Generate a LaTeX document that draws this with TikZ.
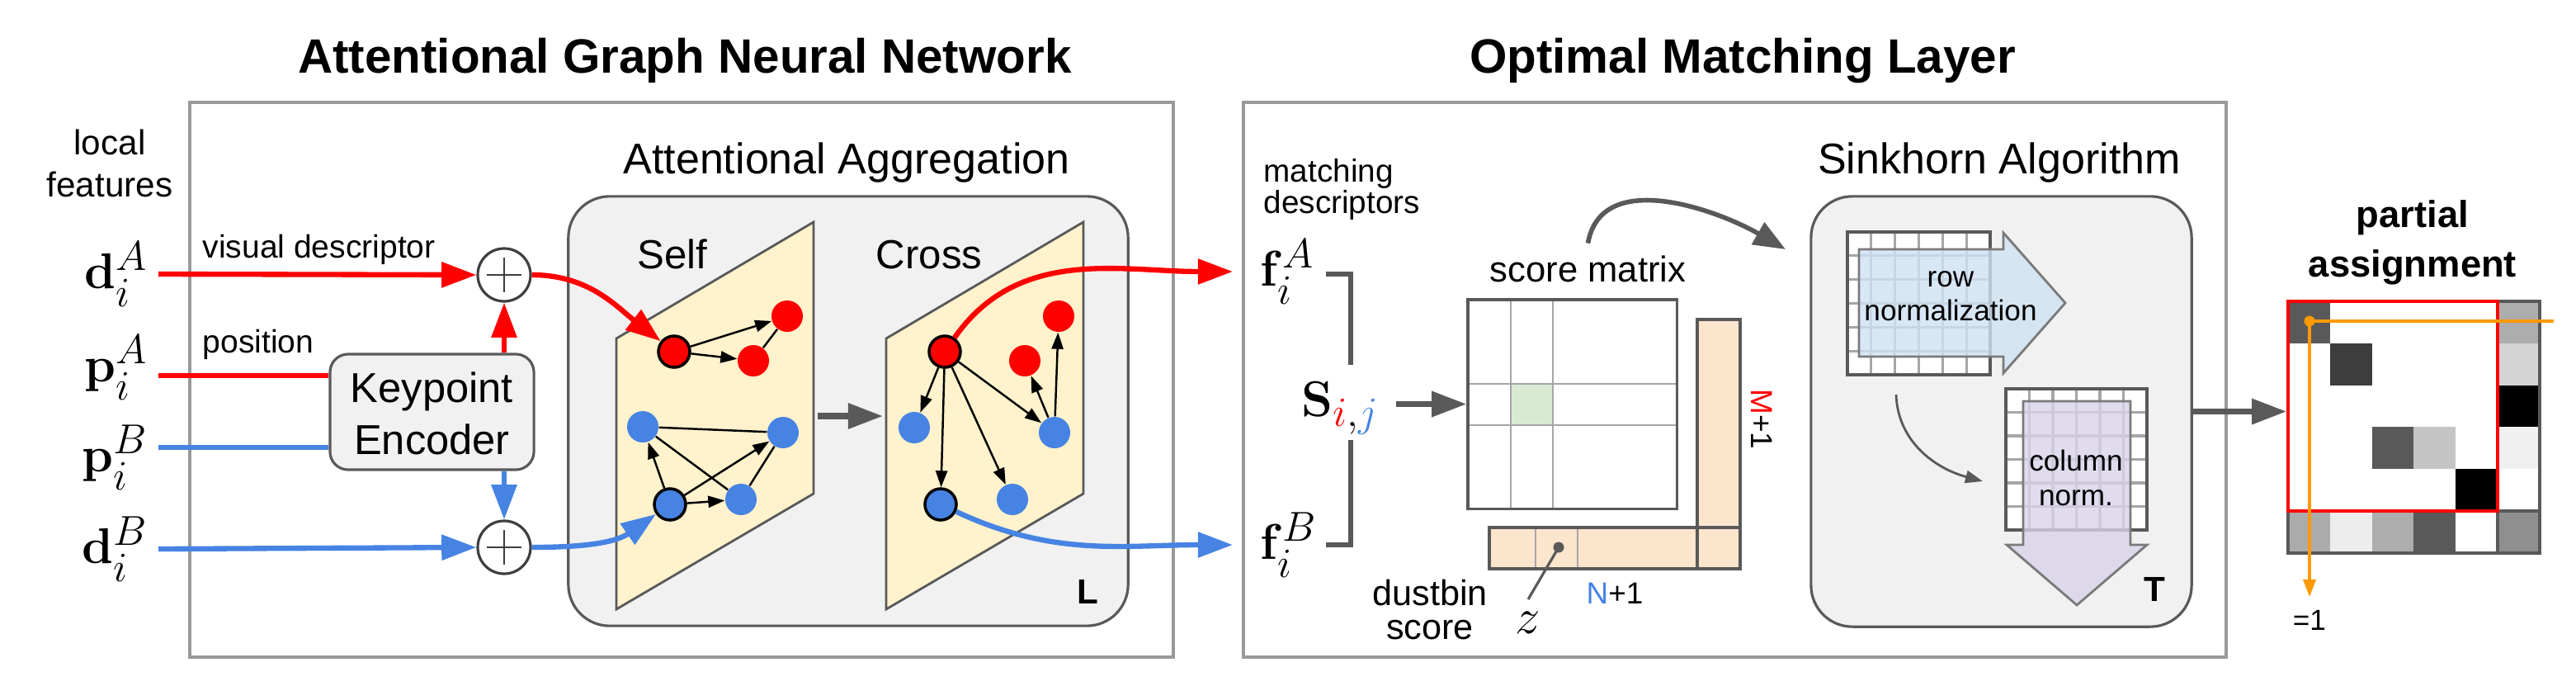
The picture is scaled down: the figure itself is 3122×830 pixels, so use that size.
\documentclass[tikz,border=0pt]{standalone}
\usepackage[no-math]{fontspec}
\setmainfont{Liberation Sans}
\usepackage{amsmath, amssymb}
\usepackage{xcolor}
\usetikzlibrary{arrows.meta}

\definecolor{myred}{HTML}{FF0000}
\definecolor{myblue}{HTML}{4683E3}
\definecolor{framegray}{HTML}{999999}
\definecolor{edgegray}{HTML}{595959}
\definecolor{gridgray}{HTML}{A6A6A6}
\definecolor{panelgray}{HTML}{F1F1F1}
\definecolor{planeyellow}{HTML}{FFF2CC}
\definecolor{peach}{HTML}{FCE5CD}
\definecolor{cellgreen}{HTML}{D9EAD3}
\definecolor{rowblue}{HTML}{CFE2F3}
\definecolor{colpurple}{HTML}{D9D2E9}
\definecolor{myorange}{HTML}{FF9900}

\newcommand{\setsz}[1]{\fontsize{#1}{#1}\selectfont}

\tikzset{
  redline/.style={draw=myred, line width=1.8pt},
  blueline/.style={draw=myblue, line width=1.8pt},
  bigtip/.style={-{Triangle[length=12pt,width=8.5pt]}},
  grayarrow/.style={draw=edgegray, line width=2pt, -{Triangle[length=12pt,width=8.5pt]}},
  gnode/.style={circle, inner sep=0pt, minimum size=0.38cm},
  rnode/.style={gnode, fill=myred},
  bnode/.style={gnode, fill=myblue},
  query/.style={draw=black, line width=1pt},
  gedge/.style={draw=black, line width=0.7pt, -{Triangle[length=5.7pt,width=4pt]}},
  glink/.style={draw=black, line width=0.7pt},
  plane/.style={fill=planeyellow, draw=edgegray, line width=0.8pt},
  panel/.style={draw=edgegray, fill=panelgray, line width=0.9pt, rounded corners=0.5cm, inner sep=0pt},
  outerframe/.style={draw=framegray, line width=1pt},
  plusnode/.style={circle, draw=edgegray!70!black, fill=white, line width=0.9pt, minimum size=0.64cm, inner sep=0pt},
  lbl/.style={inner sep=0pt, anchor=base},
  mathlbl/.style={font=\setsz{19}, inner ysep=0pt},
}

\begin{document}
\begin{tikzpicture}[x=0.01cm, y=-0.01cm]
\useasboundingbox (0,0) rectangle (3122,830);

\node[lbl, font=\bfseries\setsz{16.6}] (gnntitle) at (830,88) {Attentional Graph Neural Network};
\node[lbl, font=\bfseries\setsz{16.6}] (omltitle) at (2112,88) {Optimal Matching Layer};

\draw[outerframe] (230,124) rectangle (1422,796);
\draw[outerframe] (1507,124) rectangle (2698,796);

% inputs
\node[lbl, font=\setsz{12}] (local) at (133,187) {local};
\node[lbl, font=\setsz{12}] (feat) at (133,238) {features};
\node[mathlbl, inner xsep=0.12cm, anchor=east] (dA) at (192,332) {$\mathbf{d}_i^A$};
\node[mathlbl, inner xsep=0.12cm, anchor=east] (pA) at (192,445) {$\mathbf{p}_i^A$};
\node[mathlbl, inner xsep=0.12cm, anchor=east] (pB) at (192,554) {$\mathbf{p}_i^B$};
\node[mathlbl, inner xsep=0.12cm, anchor=east] (dB) at (192,665) {$\mathbf{d}_i^B$};
\node[lbl, anchor=base west, font=\setsz{11.1}] (vdesc) at (245,312) {visual descriptor};
\node[lbl, anchor=base west, font=\setsz{11.1}] (pos) at (245,427) {position};

\node[draw=edgegray, fill=panelgray, line width=0.9pt, rounded corners=0.22cm, minimum width=2.47cm, minimum height=1.4cm] (kenc) at (523.5,499) {};
\node[lbl, font=\setsz{14.4}] (kenc1) at (523.5,487) {Keypoint};
\node[lbl, font=\setsz{14.4}] (kenc2) at (523.5,550) {Encoder};

\node[plusnode] (plusA) at (611,333) {};
\node[plusnode] (plusB) at (611,663) {};
\foreach \p in {plusA,plusB}
  \draw[edgegray!70!black, line width=0.6pt] (\p) ++(-21,0) -- ++(42,0) (\p) ++(0,-21) -- ++(0,42);

\draw[redline, bigtip] (dA.east) -- (plusA.west);
\draw[redline] (pA.east |- 0,455) -- (kenc.west |- 0,455);
\draw[blueline] (pB.east |- 0,542) -- (kenc.west |- 0,542);
\draw[blueline, bigtip] (dB.east) -- (plusB.west);
\draw[redline, bigtip] (kenc.north -| plusA) -- (plusA.south);
\draw[blueline, bigtip] (kenc.south -| plusB) -- (plusB.north);

% attentional aggregation
\node[panel, minimum width=6.78cm, minimum height=5.2cm] (aggr) at (1028,498) {};
\node[lbl, font=\setsz{14.8}] (aggrtitle) at (1026,210) {Attentional Aggregation};
\draw[plane] (747,410) -- (986,269) -- (986,598) -- (747,738) -- cycle;
\draw[plane] (1074,410) -- (1313,269) -- (1313,598) -- (1074,738) -- cycle;
\node[lbl, anchor=base west, font=\setsz{14}] (selftxt) at (772,325) {Self};
\node[lbl, anchor=base west, font=\setsz{14}] (crosstxt) at (1061,325) {Cross};
\node[lbl, font=\bfseries\setsz{12}] (layL) at (1318,731) {L};

\coordinate (selfout) at (991,504);
\coordinate (crossin) at (1070,504);
\draw[grayarrow] (selfout) -- (crossin);

\node[rnode, query] (sr1) at (817,426) {};
\node[rnode] (sr2) at (954,383) {};
\node[rnode] (sr3) at (913,437) {};
\node[bnode, query] (sb1) at (812,611) {};
\node[bnode] (sb2) at (779,517) {};
\node[bnode] (sb3) at (949,524) {};
\node[bnode] (sb4) at (898,605) {};
\draw[gedge] (sr1) -- (sr2);
\draw[gedge] (sr1) -- (sr3);
\draw[glink] (sr3) -- (sr2);
\draw[gedge] (sb1) -- (sb2);
\draw[gedge] (sb1) -- (sb3);
\draw[gedge] (sb1) -- (sb4);
\draw[glink] (sb2) -- (sb3);
\draw[glink] (sb2) -- (sb4);
\draw[glink] (sb4) -- (sb3);

\node[rnode, query] (cr1) at (1145,426) {};
\node[rnode] (cr2) at (1283,383) {};
\node[rnode] (cr3) at (1242,437) {};
\node[bnode, query] (cb1) at (1140,611) {};
\node[bnode] (cb2) at (1108,518) {};
\node[bnode] (cb3) at (1278,524) {};
\node[bnode] (cb4) at (1227,605) {};
\draw[gedge] (cr1) -- (cb2);
\draw[gedge] (cr1) -- (cb1);
\draw[gedge] (cr1) -- (cb4);
\draw[gedge] (cr1) -- (cb3);
\draw[gedge] (cb3) -- (cr3);
\draw[gedge] (cb3) -- (cr2);

\draw[redline, bigtip] (plusA.east) to[out=0, in=142] (sr1);
\draw[blueline, bigtip] (plusB.east) to[out=0, in=-145] (sb1);

% optimal matching layer
\node[lbl, anchor=base west, font=\setsz{11}] (match1) at (1531,220) {matching};
\node[lbl, anchor=base west, font=\setsz{11}] (match2) at (1531,258) {descriptors};
\node[mathlbl, inner xsep=0.33cm, anchor=west] (fA) at (1494,329) {$\mathbf{f}_i^A$};
\node[mathlbl, inner xsep=0.33cm, anchor=west] (fB) at (1494,660) {$\mathbf{f}_i^B$};
\draw[redline, bigtip] (cr1) to[out=55, in=180] (fA.west);
\draw[blueline, bigtip] (cb1) to[out=-25, in=180] (fB.west);
\draw[edgegray, line width=1.6pt] (1607,332) -| (1637,442);
\draw[edgegray, line width=1.6pt] (1637,533) |- (1607,660);
\node[mathlbl, inner xsep=0.2cm, anchor=base west] (sij) at (1557,504) {$\mathbf{S}_{\textcolor{myred}{i},\textcolor{myblue}{j}}$};

\fill[white] (1779,363) rectangle (2032,616);
\fill[cellgreen] (1831,465) rectangle (1882,515);
\draw[gridgray, line width=0.8pt] (1831,363) -- (1831,616) (1882,363) -- (1882,616)
  (1779,465) -- (2032,465) (1779,515) -- (2032,515);
\node[draw=edgegray, line width=0.9pt, minimum width=2.53cm, minimum height=2.53cm, inner sep=0pt] (smat) at (1905.5,489.5) {};
\draw[grayarrow] (sij.east |- smat.west) -- (smat.west);
\node[inner sep=4pt, anchor=base west, font=\setsz{12.4}] (smlabel) at (1791,341) {score matrix};

\fill[peach] (2057,387) rectangle (2109,689);
\fill[peach] (1805,639) rectangle (2109,689);
\draw[gridgray, line width=0.8pt] (1861,639) -- (1861,689) (1912,639) -- (1912,689);
\draw[edgegray, line width=0.9pt] (2057,387) rectangle (2109,689);
\draw[edgegray, line width=0.9pt] (1805,639) rectangle (2109,689);
\node[circle, fill=edgegray, inner sep=0pt, minimum size=0.13cm] (zdot) at (1889,663) {};
\node[anchor=base, inner sep=4pt, font=\setsz{19}] (zlbl) at (1852,767) {$z$};
\draw[edgegray, line width=0.9pt] (zdot.center) -- (zlbl.north);
\node[lbl, font=\setsz{12.3}] (dust1) at (1733,733) {dustbin};
\node[lbl, font=\setsz{12.3}] (dust2) at (1733,774) {score};
\node[lbl, anchor=base west, font=\setsz{10.5}] (nplus) at (1922,731) {\textcolor{myblue}{N}+1};
\node[inner sep=0pt, rotate=-90, font=\setsz{10.5}] (mplus) at (2135,508) {\textcolor{myred}{M}+1};

% sinkhorn
\node[panel, minimum width=4.61cm, minimum height=5.21cm] (sink) at (2425.5,498.5) {};
\node[lbl, font=\setsz{14.8}] (sinktitle) at (2423,210) {Sinkhorn Algorithm};
\coordinate (sinkin) at (2164,302);
\draw[draw=edgegray, line width=1.6pt, -{Triangle[length=11pt,width=8.5pt]}] (smlabel.north) to[out=80, in=150] (sinkin);

\fill[white] (2239,281) rectangle ++(173,173);
\fill[white] (2431,471) rectangle ++(171,171);
\foreach \i in {0,...,6} {
  \draw[gridgray, line width=0.9pt] (2239+\i*28.83,281) -- ++(0,173);
  \draw[gridgray, line width=0.9pt] (2239,281+\i*28.83) -- ++(173,0);
  \draw[gridgray, line width=0.9pt] (2431+\i*28.5,471) -- ++(0,171);
  \draw[gridgray, line width=0.9pt] (2431,471+\i*28.5) -- ++(171,0);
}
\draw[edgegray, line width=1pt] (2239,281) rectangle ++(173,173);
\draw[edgegray, line width=1pt] (2431,471) rectangle ++(171,171);

\draw[fill=rowblue, fill opacity=0.8, draw=edgegray!80, line width=0.8pt]
  (2253,302) -- (2428,302) -- (2428,282) -- (2503,367) -- (2428,452) -- (2428,432) -- (2253,432) -- cycle;
\draw[fill=colpurple, fill opacity=0.8, draw=edgegray!80, line width=0.8pt]
  (2452,486) -- (2582,486) -- (2582,660) -- (2602,660) -- (2517,733) -- (2432,660) -- (2452,660) -- cycle;
\node[lbl, font=\setsz{10}] (row1) at (2364,347) {row};
\node[lbl, font=\setsz{10}] (row2) at (2364,388) {normalization};
\node[lbl, font=\setsz{10}] (col1) at (2516,570) {column};
\node[lbl, font=\setsz{10}] (col2) at (2516,612) {norm.};
\coordinate (thinstart) at (2298,478);
\coordinate (thinend) at (2403,583);
\draw[edgegray, line width=0.8pt, -{Triangle[length=6pt,width=4.3pt]}] (thinstart) to[out=-88, in=165] (thinend);
\node[lbl, font=\bfseries\setsz{12}] (layT) at (2611,728) {T};

% partial assignment
\node[lbl, font=\bfseries\setsz{12.9}] (part1) at (2924,275) {partial};
\node[lbl, font=\bfseries\setsz{12.9}] (part2) at (2924,335) {assignment};
\fill[white] (2773,365) rectangle (3078,670);
\foreach \c/\r/\g in {0/0/65, 5/0/32, 1/1/76, 5/1/17, 5/2/100, 2/3/65, 3/3/23, 5/3/6,
  4/4/100, 0/5/33, 1/5/7, 2/5/32, 3/5/65, 5/5/44}
  \fill[black!\g] (2773+\c*50.8,365+\r*50.8) rectangle ++(50.8,50.8);
\draw[edgegray, line width=0.9pt] (3027,365) -- (3027,670) (2773,619) -- (3078,619);
\node[draw=edgegray, line width=1pt, minimum width=3.05cm, minimum height=3.05cm, inner sep=0pt] (pmat) at (2925.5,517.5) {};
\draw[myred, line width=1pt] (2773,365) rectangle (3027,619);
\draw[grayarrow] (sink.east) -- (sink.east -| pmat.west);

\node[circle, fill=myorange, inner sep=0pt, minimum size=0.13cm] (odot) at (2799,389) {};
\coordinate (orow) at (3095,389);
\coordinate (ocol) at (2799,723);
\draw[myorange, line width=1pt] (odot.center) -- (orow);
\draw[myorange, line width=1pt, -{Triangle[length=6pt,width=4.3pt]}] (odot.center) -- (ocol);
\node[lbl, anchor=base west, font=\setsz{10}] (eqone) at (2778,763) {=1};
\end{tikzpicture}
\end{document}
